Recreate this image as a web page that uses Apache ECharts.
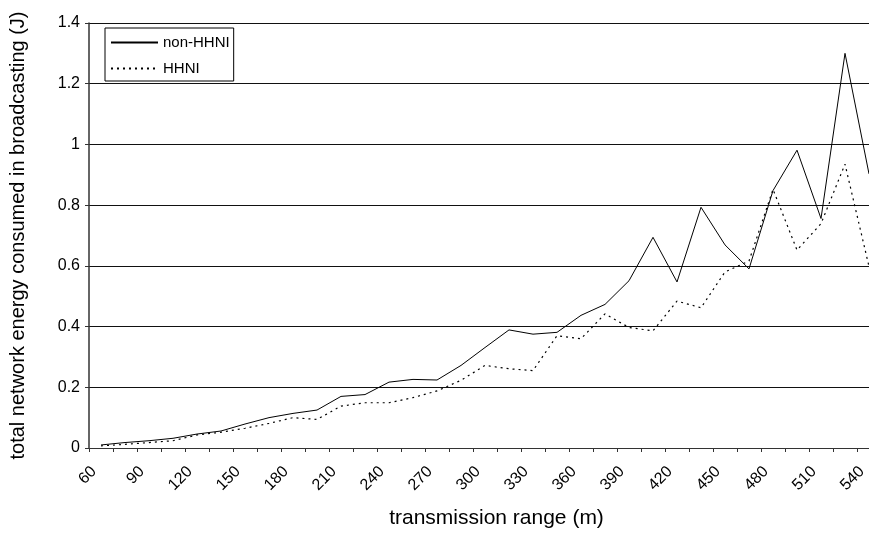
<!DOCTYPE html>
<html>
<head>
<meta charset="utf-8">
<style>
  html, body { margin: 0; padding: 0; background: #fff; }
  /* the plot runs a little past the right edge of the frame, so the last band is cut off */
  #frame { width: 869px; height: 534px; overflow: hidden; position: relative; }
  #chart { width: 881px; height: 534px; position: absolute; left: 0; top: 0; }
</style>
<script src="https://cdn.jsdelivr.net/npm/echarts@6/dist/echarts.min.js"></script>
</head>
<body>
<div id="frame"><div id="chart"></div></div>
<script>
// Transmission range (m) for each simulation run
const ranges = [60, 75, 90, 105, 120, 135, 150, 165, 180, 195, 210, 225, 240, 255, 270, 285,
                300, 315, 330, 345, 360, 375, 390, 405, 420, 435, 450, 465, 480, 495, 510, 525, 540];

// Total network energy consumed in broadcasting (J)
const nonHHNI = [0.010, 0.018, 0.024, 0.032, 0.046, 0.056, 0.079, 0.100, 0.114, 0.125, 0.170,
                 0.176, 0.217, 0.226, 0.224, 0.272, 0.331, 0.389, 0.375, 0.381, 0.437, 0.473,
                 0.551, 0.694, 0.547, 0.793, 0.669, 0.590, 0.848, 0.981, 0.756, 1.300, 0.903];
const HHNI    = [0.007, 0.012, 0.018, 0.024, 0.043, 0.052, 0.065, 0.081, 0.100, 0.094, 0.138,
                 0.149, 0.149, 0.166, 0.188, 0.223, 0.272, 0.261, 0.255, 0.370, 0.360, 0.442,
                 0.397, 0.386, 0.484, 0.462, 0.580, 0.616, 0.852, 0.652, 0.739, 0.935, 0.598];

const yTicks = { min: 0, max: 1.4, interval: 0.2 };

const FONT = '"Liberation Sans", Arial, Helvetica, sans-serif';

const chart = echarts.init(document.getElementById('chart'), null, { renderer: 'canvas' });

chart.setOption({
  animation: false,
  backgroundColor: '#ffffff',
  textStyle: { fontFamily: FONT, color: '#000' },
  grid: { left: 89, top: 23, bottom: 82, right: 0, containLabel: false },
  legend: {
    orient: 'vertical',
    left: 105,
    top: 28,
    padding: [7, 4, 5, 5],
    itemGap: 11,
    itemWidth: 47,
    itemHeight: 14,
    borderColor: '#000',
    borderWidth: 1,
    backgroundColor: '#fff',
    itemStyle: { opacity: 0, borderWidth: 0 },
    textStyle: { fontFamily: FONT, fontSize: 15, color: '#000' },
    data: ['non-HHNI', 'HHNI']
  },
  xAxis: {
    type: 'category',
    data: ranges,
    boundaryGap: true,
    name: 'transmission range (m)',
    nameLocation: 'middle',
    nameGap: 60,
    nameTextStyle: { fontFamily: FONT, fontSize: 21, color: '#000', padding: [0, 0, 0, 23] },
    axisLine: { show: true, lineStyle: { color: '#333', width: 1 } },
    axisTick: { show: true, interval: 0, length: 4, alignWithLabel: false, lineStyle: { color: '#333' } },
    axisLabel: { interval: 1, rotate: 45, margin: 14, padding: [0, 10, 0, 0],
                 fontFamily: FONT, fontSize: 16, color: '#000' },
    splitLine: { show: false }
  },
  yAxis: {
    type: 'value',
    min: yTicks.min,
    max: yTicks.max,
    interval: yTicks.interval,
    name: 'total network energy consumed in broadcasting (J)',
    nameLocation: 'middle',
    nameGap: 61,
    nameTextStyle: { fontFamily: FONT, fontSize: 20, color: '#000' },
    axisLine: { show: true, lineStyle: { color: '#333', width: 1.5 } },
    axisTick: { show: true, length: 4, lineStyle: { color: '#333' } },
    axisLabel: { margin: 9, fontFamily: FONT, fontSize: 16, color: '#000' },
    splitLine: { show: true, lineStyle: { color: '#111', width: 1 } }
  },
  series: [
    {
      name: 'non-HHNI',
      type: 'line',
      data: nonHHNI,
      symbol: 'none',
      lineStyle: { color: '#000', width: 1, type: 'solid' },
      itemStyle: { color: '#000' }
    },
    {
      name: 'HHNI',
      type: 'line',
      data: HHNI,
      symbol: 'none',
      lineStyle: { color: '#000', width: 1.2, type: [2, 4] },
      itemStyle: { color: '#000' }
    }
  ]
});
</script>
</body>
</html>
